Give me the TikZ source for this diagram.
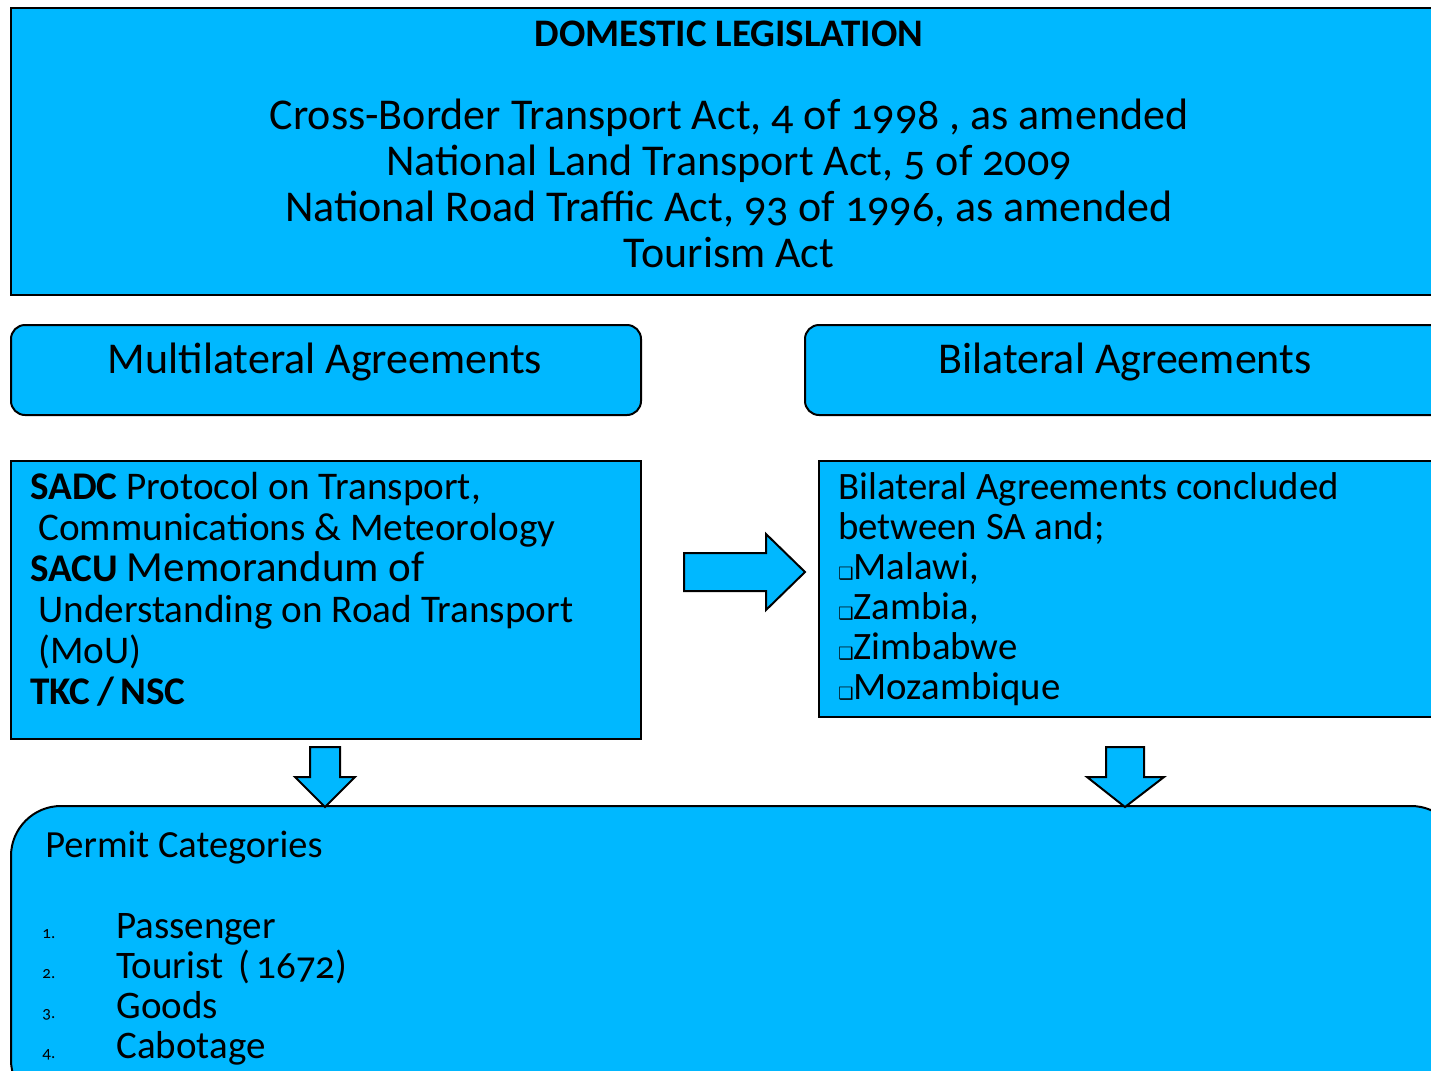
\documentclass[tikz,border=0pt]{standalone}
\usepackage{fontspec}
\setmainfont{Carlito}[Numbers=OldStyle]
\newfontfamily\symfont{DejaVu Sans}
\usetikzlibrary{positioning}

\definecolor{boxblue}{RGB}{0,184,255}
\newcommand{\sqbul}{{\symfont\fontsize{8.5}{8}\selectfont ❑}}

\tikzset{
  panel/.style={draw=black, fill=boxblue, line width=1pt, anchor=north west, inner sep=0pt},
  roundpanel/.style={panel, rounded corners=7pt},
  arrowshape/.style={draw=black, fill=boxblue, line width=1pt, line join=miter},
  txt/.style={inner sep=0pt, anchor=base west, align=left},
}

\begin{document}
\begin{tikzpicture}[x=0.5pt,y=-0.5pt]
\useasboundingbox (0,0) rectangle (1431,1071);
\clip (0,0) rectangle (1431,1071);

% boxes
\node[panel, minimum width=725pt, minimum height=143.5pt] (domestic) at (10,7) {};
\node[roundpanel, minimum width=315pt, minimum height=45pt] (multi) at (10,324) {};
\node[roundpanel, minimum width=328pt, minimum height=45pt] (bilat) at (804,324) {};
\node[panel, minimum width=315pt, minimum height=139pt] (sadc) at (10,460) {};
\node[panel, minimum width=321pt, minimum height=128pt] (bilist) at (818,460) {};
\node[panel, rounded corners=25pt, minimum width=725pt, minimum height=152pt] (permits) at (10,805) {};

% texts (base = last line)
\node[txt, anchor=base, font=\bfseries\fontsize{19.5}{20}\selectfont] (title) at (729,46) {DOMESTIC LEGISLATION};
\node[txt, anchor=base, align=center, font=\fontsize{22}{22.9}\selectfont] (acts) at (729,267)
  {Cross-Border Transport Act, 4 of 1998 , as amended\\
   National Land Transport Act, 5 of 2009\\
   National Road Traffic Act, 93 of 1996, as amended\\
   Tourism Act};
\node[txt, anchor=base, font=\fontsize{22}{24}\selectfont] (multitxt) at (325,373) {Multilateral Agreements};
\node[txt, anchor=base, font=\fontsize{22}{24}\selectfont] (bilattxt) at (1125,373) {Bilateral Agreements};

\node[txt, font=\fontsize{19.6}{20.5}\selectfont] (sadctxt) at (30,704)
  {\textbf{SADC} Protocol on Transport,\\
   \hspace{4pt}Communications \& Meteorology\\
   \textbf{SACU} {\fontsize{21.5}{20}\selectfont Memorandum of}\\
   \hspace{4pt}Understanding on Road Transport\\
   \hspace{4pt}(MoU)\\
   \textbf{TKC\,/\,NSC}};

\node[txt, font=\fontsize{19.4}{20}\selectfont] (bilisttxt) at (838,699)
  {Bilateral Agreements concluded\\
   between SA and;\\
   \sqbul Malawi,\\
   \sqbul Zambia,\\
   \sqbul Zimbabwe\\
   \sqbul Mozambique};

\node[txt, font=\fontsize{19.2}{20}\selectfont] (permtitle) at (45,857) {Permit Categories};
\foreach \i/\item in {1/Passenger, 2/{Tourist\hspace{0.4em}(\hspace{0.15em}1672)}, 3/Goods, 4/Cabotage}{
  \node[txt, font=\fontsize{8.5}{8}\selectfont] (num\i) at (42,{898+40*\i}) {\i.};
  \node[txt, font=\fontsize{19.5}{20}\selectfont] (item\i) at (116,{898+40*\i}) {\item};
}

% block arrows
\draw[arrowshape] (684,553) -- (766,553) -- (766,534) -- (805,572) -- (766,610) -- (766,591) -- (684,591) -- cycle;
\draw[arrowshape] (310,747) -- (340,747) -- (340,777) -- (355,777) -- (325,807) -- (295,777) -- (310,777) -- cycle;
\draw[arrowshape] (1106,747) -- (1144,747) -- (1144,777) -- (1164,777) -- (1125,807) -- (1087,777) -- (1106,777) -- cycle;
\end{tikzpicture}
\end{document}
